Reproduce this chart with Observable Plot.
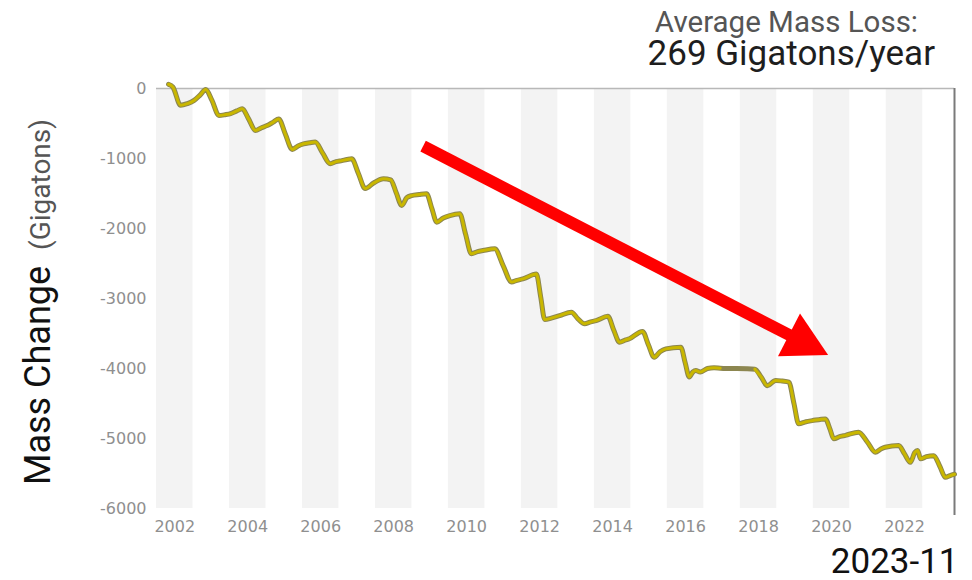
<!DOCTYPE html>
<html>
<head>
<meta charset="utf-8">
<script src="https://cdn.jsdelivr.net/npm/d3@7"></script>
<script src="https://cdn.jsdelivr.net/npm/@observablehq/plot@0.6"></script>
<style>
  html, body { margin: 0; padding: 0; background: #fff; }
  #wrap { position: relative; width: 972px; height: 580px; overflow: hidden; }
  #wrap svg { display: block; }
  .t1 { position: absolute; right: 54px; top: 9px; line-height: 0.9; font-family: Roboto, sans-serif; font-size: 29.5px; color: #555; white-space: nowrap; }
  .t2 { position: absolute; right: 37px; top: 38px; line-height: 0.9; font-family: Roboto, sans-serif; font-size: 35px; color: #1e1e1e; white-space: nowrap; }
</style>
</head>
<body>
<div id="wrap">
  <div class="t1">Average Mass Loss:</div>
  <div class="t2">269 Gigatons/year</div>
</div>
<script>
// Decimal-year times and cumulative mass change (Gt)
const times = [2002.33,2002.45,2002.66,2002.85,2003.03,2003.20,2003.35,2003.52,2003.71,2003.88,
  2004.03,2004.20,2004.35,2004.52,2004.71,2004.88,2005.03,2005.20,2005.35,2005.53,
  2005.72,2005.88,2006.03,2006.20,2006.35,2006.55,2006.76,2006.92,2007.08,2007.22,
  2007.35,2007.53,2007.72,2007.95,2008.22,2008.42,2008.57,2008.72,2008.86,2008.99,
  2009.20,2009.40,2009.55,2009.68,2009.86,2010.04,2010.31,2010.47,2010.63,2010.80,
  2010.95,2011.27,2011.50,2011.73,2011.88,2012.04,2012.41,2012.53,2012.64,2012.82,
  2013.05,2013.37,2013.55,2013.73,2013.90,2014.05,2014.37,2014.53,2014.69,2014.84,
  2014.96,2015.32,2015.48,2015.64,2015.80,2015.96,2016.37,2016.49,2016.60,2016.70,
  2016.78,2016.90,2017.10,2017.28,2017.45,2018.40,2018.57,2018.74,2018.97,2019.15,
  2019.33,2019.47,2019.60,2019.80,2019.97,2020.33,2020.46,2020.56,2020.74,2020.88,
  2021.24,2021.48,2021.70,2021.85,2021.97,2022.34,2022.50,2022.66,2022.78,2022.86,
  2022.94,2023.10,2023.30,2023.47,2023.62,2023.75,2023.87];
const mass = [60,20,-240,-215,-170,-90,-15,-170,-385,-375,
  -360,-320,-290,-430,-600,-560,-530,-480,-435,-650,
  -870,-820,-790,-775,-765,-920,-1075,-1045,-1030,-1015,
  -1005,-1210,-1430,-1350,-1290,-1305,-1490,-1670,-1560,-1530,
  -1515,-1505,-1720,-1910,-1850,-1815,-1790,-2080,-2360,-2330,
  -2315,-2290,-2530,-2765,-2740,-2720,-2650,-2980,-3300,-3280,
  -3245,-3195,-3290,-3360,-3335,-3315,-3255,-3450,-3625,-3595,
  -3575,-3470,-3660,-3840,-3760,-3720,-3695,-3920,-4120,-4050,
  -4030,-4050,-4000,-3990,-3995,-4010,-4120,-4245,-4170,-4180,
  -4195,-4500,-4790,-4760,-4745,-4720,-4870,-5005,-4970,-4955,
  -4910,-5050,-5195,-5150,-5125,-5100,-5220,-5340,-5200,-5170,
  -5290,-5260,-5245,-5400,-5555,-5530,-5510];

const shadedYears = [2002,2004,2006,2008,2010,2012,2014,2016,2018,2020,2022];
const tickYears = [2002,2004,2006,2008,2010,2012,2014,2016,2018,2020,2022];
const yTicks = [0,-1000,-2000,-3000,-4000,-5000,-6000];
const xDomain = [2002, 2023.87];
const yDomain = [-6000, 0];
const latestTime = 2023.87;
const latestLabel = "2023-11";
const arrowStart = [2009.32, -830];
const arrowEnd = [2020.42, -3814];

const data = times.map((t, i) => ({
  t, v: mass[i],
  seg: t <= 2017.45 ? "GRACE" : "GRACE-FO"
}));
const bands = shadedYears.map(y => ({x1: y, x2: y + 1}));

const tickFont = "DejaVu Sans, sans-serif";

const plot = Plot.plot({
  width: 972,
  height: 580,
  marginLeft: 156,
  marginRight: 18,
  marginTop: 88,
  marginBottom: 72,
  style: {fontFamily: tickFont, fontSize: "16px", background: "transparent", overflow: "visible"},
  x: {domain: xDomain},
  y: {domain: yDomain},
  marks: [
    Plot.rectY(bands, {x1: "x1", x2: "x2", y1: yDomain[0], y2: yDomain[1], fill: "#f3f3f3"}),
    Plot.ruleY([0], {stroke: "#b8b8b8", strokeWidth: 1.5}),
    Plot.ruleX([latestTime], {y1: yDomain[1], y2: -6100, stroke: "#7a7a7a", strokeWidth: 2}),
    Plot.line(data, {x: "t", y: "v", stroke: "#8c8650", strokeWidth: 5, curve: "monotone-x"}),
    Plot.line(data, {x: "t", y: "v", z: "seg", stroke: "#c9b700", strokeWidth: 3, curve: "monotone-x"}),
    Plot.axisY({ticks: yTicks, tickSize: 0, tickPadding: 10, tickFormat: d => String(d), label: null, color: "#8f8f8f", fontSize: 16}),
    Plot.axisX({ticks: tickYears.map(y => y + 0.5), tickSize: 0, tickPadding: 12, tickFormat: d => String(Math.floor(d)), label: null, color: "#8f8f8f", fontSize: 16}),
    Plot.text([latestLabel], {x: latestTime, frameAnchor: "bottom", dy: 64, dx: 4, textAnchor: "end", fontSize: 35, fontFamily: "Roboto, sans-serif", fill: "#111"})
  ]
});

document.getElementById("wrap").prepend(plot);

// Red arrow annotation, positioned through the plot's scales
const sx = plot.scale("x"), sy = plot.scale("y");
const x0 = sx.apply(arrowStart[0]), y0 = sy.apply(arrowStart[1]);
const x1 = sx.apply(arrowEnd[0]), y1 = sy.apply(arrowEnd[1]);
const dx = x1 - x0, dy = y1 - y0, len = Math.hypot(dx, dy);
const ux = dx / len, uy = dy / len;
const headL = 44, headW = 48;
const bx = x1 - ux * headL, by = y1 - uy * headL;
const svg = d3.select(plot);
const g = svg.append("g");
g.append("line").attr("x1", x0).attr("y1", y0).attr("x2", bx + ux * 2).attr("y2", by + uy * 2)
  .attr("stroke", "#ff0000").attr("stroke-width", 12);
g.append("path")
  .attr("d", `M${x1},${y1}L${bx - uy * headW / 2},${by + ux * headW / 2}L${bx + uy * headW / 2},${by - ux * headW / 2}Z`)
  .attr("fill", "#ff0000");

// Y axis title
const ymid = (sy.apply(0) + sy.apply(-6000)) / 2;
const title = svg.append("text")
  .attr("transform", `translate(50,${ymid + 4}) rotate(-90)`)
  .attr("text-anchor", "middle")
  .attr("font-family", "Roboto, sans-serif");
title.append("tspan").attr("font-size", 36).attr("fill", "#111").text("Mass Change");
title.append("tspan").attr("font-size", 28).attr("fill", "#555").attr("dx", 16).text("(Gigatons)");
</script>
</body>
</html>
